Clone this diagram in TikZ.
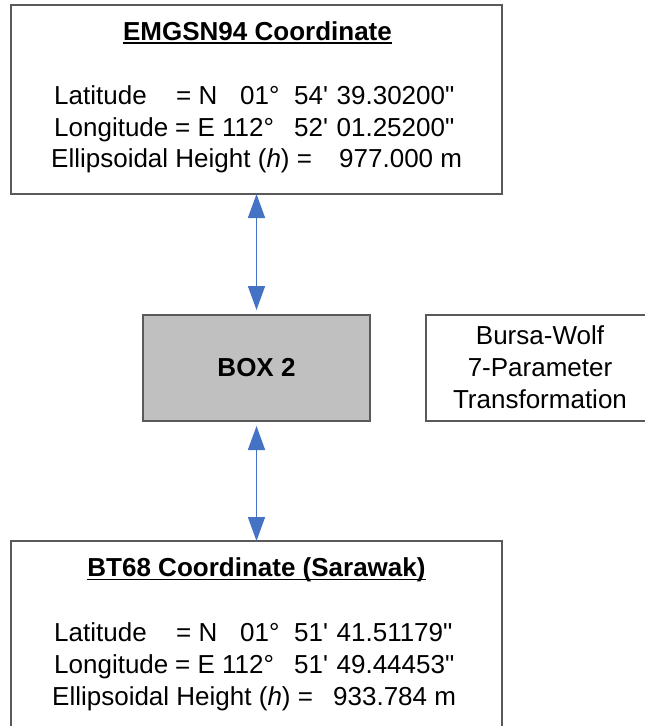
\documentclass[tikz,border=0pt]{standalone}
\usepackage{fontspec}
\setmainfont{Liberation Sans}[Ligatures=TeXOff]
\usetikzlibrary{arrows.meta}
\definecolor{bord}{RGB}{89,89,89}
\definecolor{arrblue}{RGB}{68,114,196}
\definecolor{boxgray}{RGB}{192,192,192}
\newcommand\col[2]{\makebox[#1pt][l]{#2}}
\newcommand\apos{\symbol{39}}
\newcommand\dquo{\symbol{34}}
\begin{document}
\begin{tikzpicture}[x=1pt,y=-1pt,
  frame/.style={draw=bord,line width=1.2pt,inner sep=0pt,outer sep=0pt},
  txt/.style={font=\fontsize{26}{32}\selectfont,inner sep=0pt,anchor=base},
  row/.style={txt,anchor=base west},
  ttl/.style={txt,font=\fontsize{26}{32}\selectfont\bfseries},
  uline/.style={line width=1.6pt},
  arr/.style={draw=arrblue,line width=1.6pt,{Triangle[length=24pt,width=17pt]}-{Triangle[length=24pt,width=17pt]}}]
\useasboundingbox (0,0) rectangle (645,726);
% boxes
\node[frame,minimum width=491pt,minimum height=189pt] (top) at (256.5,99.5) {};
\node[frame,fill=boxgray,minimum width=227pt,minimum height=106pt] (box2) at (256.5,368) {};
\node[frame,minimum width=222pt,minimum height=106pt] (bursa) at (537,368) {};
\node[frame,minimum width=491pt,minimum height=189pt] (bot) at (256.5,635.5) {};
% top texts
\node[ttl] (t0) at (257.5,40) {EMGSN94 Coordinate};
\draw[uline] ([yshift=-3pt]t0.base west) -- ([yshift=-3pt]t0.base east);
\node[row] (t1) at (54,104) {\col{122}{Latitude}\col{64}{= N}\col{54}{01°}\col{42.5}{54\apos}39.30200\dquo};
\node[row] (t2) at (54,136) {\col{121}{Longitude}\col{119}{= E 112°}\col{42.5}{52\apos}01.25200\dquo};
\node[row] (t3) at (51,167) {\col{288}{Ellipsoidal Height (\textit{h}) =}977.000 m};
% middle
\node[ttl] (b2) at (256.5,376) {BOX 2};
\node[txt] (w1) at (540,344) {Bursa-Wolf};
\node[txt] (w2) at (540,376) {7-Parameter};
\node[txt] (w3) at (540,408) {Transformation};
% bottom texts
\node[ttl] (s0) at (256.5,576.5) {BT68 Coordinate (Sarawak)};
\draw[uline] ([yshift=-3pt]s0.base west) -- ([yshift=-3pt]s0.base east);
\node[row] (s1) at (54,641) {\col{122}{Latitude}\col{64}{= N}\col{54}{01°}\col{42.5}{51\apos}41.51179\dquo};
\node[row] (s2) at (54,673) {\col{121}{Longitude}\col{119}{= E 112°}\col{42.5}{51\apos}49.44453\dquo};
\node[row] (s3) at (52,705) {\col{281}{Ellipsoidal Height (\textit{h}) =}933.784 m};
% arrows
\draw[arr,shorten >=5pt] (top.south) -- (box2.north);
\draw[arr,shorten <=5pt] (box2.south) -- (bot.north);
\end{tikzpicture}
\end{document}
